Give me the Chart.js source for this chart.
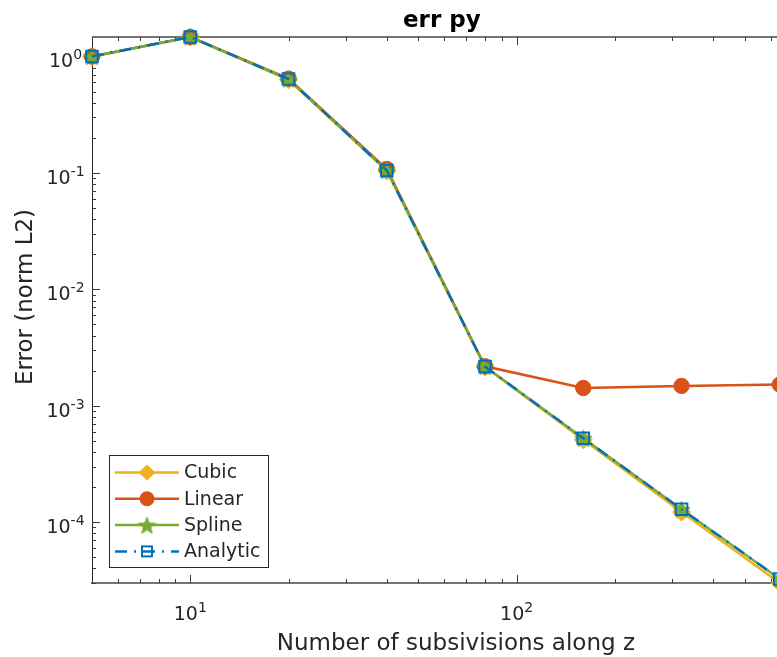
<!DOCTYPE html>
<html><head><meta charset="utf-8">
<script src="https://cdn.jsdelivr.net/npm/chart.js@4/dist/chart.umd.min.js"></script>
<style>
html,body{margin:0;padding:0;background:#fff;overflow:hidden;width:777px;height:657px;}
#wrap{position:absolute;left:0;top:0;width:790px;height:657px;}
</style></head><body>
<div id="wrap"><canvas id="c" width="790" height="657"></canvas></div>
<script>
// ---- data ----
const subdivisions = [5, 10, 20, 40, 80, 160, 320, 640];
const cubic    = [1.0, 1.47, 0.63, 0.104, 2.15e-3, 5.1e-4, 1.22e-4, 3.0e-5];
const linear   = [1.0, 1.47, 0.645, 0.108, 2.18e-3, 1.42e-3, 1.48e-3, 1.52e-3];
const spline   = [1.0, 1.47, 0.64, 0.105, 2.17e-3, 5.26e-4, 1.29e-4, 3.25e-5];
const analytic = [1.0, 1.47, 0.64, 0.105, 2.17e-3, 5.26e-4, 1.29e-4, 3.25e-5];
const seriesNames = ['Cubic', 'Linear', 'Spline', 'Analytic'];
const xTickValues = [10, 100];
const yTickValues = [1e-4, 1e-3, 1e-2, 1e-1, 1];
const xRange = [5, 640];
const yRange = [3.0e-5, 1.47];
const titleText = 'err py';
const xTitle = 'Number of subsivisions along z';
const yTitle = 'Error (norm L2)';

const FONT = "'DejaVu Sans', Verdana, sans-serif";
const TXT = '#262626';
const COL = {Cubic:'#EDB120', Linear:'#D95319', Spline:'#77AC30', Analytic:'#0072BD'};

function makeStar(r, color){
  const s = Math.ceil(2*r + 3);
  const c = document.createElement('canvas');
  c.width = s; c.height = s;
  const g = c.getContext('2d');
  g.beginPath();
  for (let i = 0; i < 10; i++){
    const rad = (i % 2 === 0) ? r : r*0.42;
    const a = -Math.PI/2 + i*Math.PI/5;
    const px = s/2 + rad*Math.cos(a), py = s/2 + 1 + rad*Math.sin(a);
    if (i) g.lineTo(px, py); else g.moveTo(px, py);
  }
  g.closePath();
  g.fillStyle = color; g.fill();
  g.strokeStyle = color; g.lineWidth = 1; g.stroke();
  return c;
}
const starImg = makeStar(9, COL.Spline);

const toXY = arr => arr.map((v, i) => ({x: subdivisions[i], y: v}));
const seriesValues = [cubic, linear, spline, analytic];

const markerDefs = {
  Cubic:    {pointStyle:'rectRot', pointRadius:9, pointBackgroundColor:COL.Cubic, pointBorderColor:COL.Cubic, pointBorderWidth:1},
  Linear:   {pointStyle:'circle', pointRadius:7.7, pointBackgroundColor:COL.Linear, pointBorderColor:COL.Linear, pointBorderWidth:1},
  Spline:   {pointStyle:starImg, pointRadius:9, pointBackgroundColor:COL.Spline, pointBorderColor:COL.Spline, pointBorderWidth:1},
  Analytic: {pointStyle:'rect', pointRadius:8.2, pointBackgroundColor:'rgba(0,0,0,0)', pointBorderColor:COL.Analytic, pointBorderWidth:2}
};
const dashDefs = {Cubic:[], Linear:[], Spline:[], Analytic:[12,7,2,7]};

const datasets = seriesNames.map((name, i) => Object.assign({
  label: name,
  data: toXY(seriesValues[i]),
  borderColor: COL[name],
  backgroundColor: COL[name],
  borderWidth: 2.5,
  borderDash: dashDefs[name],
  tension: 0,
  fill: false,
  clip: false,
  order: seriesNames.length - i,
  pointHoverRadius: markerDefs[name].pointRadius
}, markerDefs[name]));

function drawMarker(ctx, name, x, y){
  const c = COL[name];
  ctx.save();
  ctx.setLineDash([]);
  if (name === 'Cubic'){
    ctx.beginPath(); ctx.moveTo(x - 8.5, y); ctx.lineTo(x, y - 8); ctx.lineTo(x + 8.5, y); ctx.lineTo(x, y + 8); ctx.closePath();
    ctx.fillStyle = c; ctx.fill();
  } else if (name === 'Linear'){
    ctx.beginPath(); ctx.arc(x, y, 7.5, 0, Math.PI*2); ctx.fillStyle = c; ctx.fill();
  } else if (name === 'Spline'){
    ctx.drawImage(starImg, x - starImg.width/2, y - starImg.height/2);
  } else {
    ctx.strokeStyle = c; ctx.lineWidth = 2;
    ctx.strokeRect(x - 5, y - 5, 10, 10);
  }
  ctx.restore();
}

// "10" with a raised exponent, like the reference tick labels
function drawPow(ctx, v, x, baseY, align){
  const e = String(Math.round(Math.log10(v)));
  ctx.font = '19px ' + FONT; const wb = ctx.measureText('10').width;
  ctx.font = '14px ' + FONT; const we = ctx.measureText(e).width;
  const total = wb + we;
  const x0 = align === 'center' ? x - total/2 : x - total;
  ctx.textAlign = 'left'; ctx.textBaseline = 'alphabetic';
  ctx.font = '19px ' + FONT; ctx.fillText('10', x0, baseY);
  ctx.font = '14px ' + FONT; ctx.fillText(e, x0 + wb, baseY - 8);
}

const frame = {
  id: 'frame',
  beforeDatasetsDraw(chart){
    const {ctx, chartArea: a, scales} = chart;
    ctx.save();
    ctx.strokeStyle = '#737373'; ctx.lineWidth = 2;
    ctx.beginPath(); ctx.moveTo(a.left, a.top); ctx.lineTo(a.right, a.top); ctx.stroke();
    ctx.strokeStyle = '#262626'; ctx.lineWidth = 1;
    ctx.beginPath(); ctx.moveTo(Math.round(a.right) + 0.5, a.top); ctx.lineTo(Math.round(a.right) + 0.5, a.bottom); ctx.stroke();
    const vals = (min, max) => {
      const out = [];
      for (let e = Math.floor(Math.log10(min)); e <= Math.ceil(Math.log10(max)); e++)
        for (let m = 1; m <= 9; m++){
          const v = m*Math.pow(10, e);
          if (v >= min*0.9999 && v <= max*1.0001) out.push({v, major: m === 1});
        }
      return out;
    };
    ctx.strokeStyle = '#3a3a3a'; ctx.lineWidth = 1;
    ctx.beginPath();
    vals(scales.x.min, scales.x.max).forEach(t => {
      const px = Math.round(scales.x.getPixelForValue(t.v)) + 0.5;
      const L = t.major ? 8 : 4;
      ctx.moveTo(px, a.bottom); ctx.lineTo(px, a.bottom - L);
      ctx.moveTo(px, a.top); ctx.lineTo(px, a.top + L);
    });
    vals(scales.y.min, scales.y.max).forEach(t => {
      const py = Math.round(scales.y.getPixelForValue(t.v)) + 0.5;
      const L = t.major ? 8 : 4;
      ctx.moveTo(a.left, py); ctx.lineTo(a.left + L, py);
    });
    ctx.stroke();
    ctx.restore();
  }
};

const texts = {
  id: 'texts',
  afterDraw(chart){
    const {ctx, chartArea: a, scales} = chart;
    ctx.save();
    ctx.fillStyle = TXT;
    scales.x.ticks.forEach(t => drawPow(ctx, t.value, scales.x.getPixelForValue(t.value), a.bottom + 37, 'center'));
    scales.y.ticks.forEach(t => drawPow(ctx, t.value, 65.5, scales.y.getPixelForValue(t.value) + 11, 'center'));
    ctx.fillStyle = '#000';
    ctx.font = 'bold 23px ' + FONT;
    ctx.textAlign = 'center'; ctx.textBaseline = 'alphabetic';
    ctx.fillText(titleText, (a.left + a.right)/2 + 6, 27);
    ctx.fillStyle = TXT;
    ctx.font = '23px ' + FONT;
    ctx.fillText(xTitle, (a.left + a.right)/2 + 20, 650);
    ctx.translate(32, (a.top + a.bottom)/2 - 13);
    ctx.rotate(-Math.PI/2);
    ctx.fillText(yTitle, 0, 0);
    ctx.restore();

    // legend box (inside the axes, lower-left)
    ctx.save();
    const bx = 109.5, by = 455.5, bw = 159, bh = 112;
    ctx.fillStyle = '#fff'; ctx.fillRect(bx, by, bw, bh);
    ctx.strokeStyle = '#262626'; ctx.lineWidth = 1; ctx.strokeRect(bx, by, bw, bh);
    ctx.font = '19px ' + FONT; ctx.textAlign = 'left'; ctx.textBaseline = 'middle';
    chart.data.datasets.forEach((ds, i) => {
      const y = 472.5 + i*26.3;
      ctx.save();
      ctx.strokeStyle = ds.borderColor; ctx.lineWidth = 2.5;
      ctx.setLineDash(ds.borderDash || []);
      ctx.beginPath(); ctx.moveTo(115, y); ctx.lineTo(179, y); ctx.stroke();
      ctx.restore();
      drawMarker(ctx, ds.label, 147, y);
      ctx.fillStyle = TXT;
      ctx.fillText(ds.label, 184, y + 1);
    });
    ctx.restore();
  }
};

new Chart(document.getElementById('c'), {
  type: 'line',
  data: {datasets},
  plugins: [frame, texts],
  options: {
    responsive: false,
    animation: false,
    devicePixelRatio: 1,
    layout: {padding: {top: 37, right: 5, left: 0, bottom: 0}},
    plugins: {legend: {display: false}, title: {display: false}, tooltip: {enabled: false}},
    scales: {
      x: {
        type: 'logarithmic', position: 'bottom',
        min: xRange[0], max: xRange[1],
        afterBuildTicks: s => { s.ticks = xTickValues.map(v => ({value: v})); },
        afterFit: s => { s.height = 74; },
        grid: {display: false},
        border: {display: true, color: '#737373', width: 2},
        ticks: {display: false, autoSkip: false},
        title: {display: false}
      },
      y: {
        type: 'logarithmic', position: 'left',
        min: yRange[0], max: yRange[1],
        afterBuildTicks: s => { s.ticks = yTickValues.map(v => ({value: v})); },
        afterFit: s => { s.width = 92; },
        grid: {display: false},
        border: {display: true, color: '#262626', width: 1},
        ticks: {display: false, autoSkip: false},
        title: {display: false}
      }
    }
  }
});
</script>
</body></html>
